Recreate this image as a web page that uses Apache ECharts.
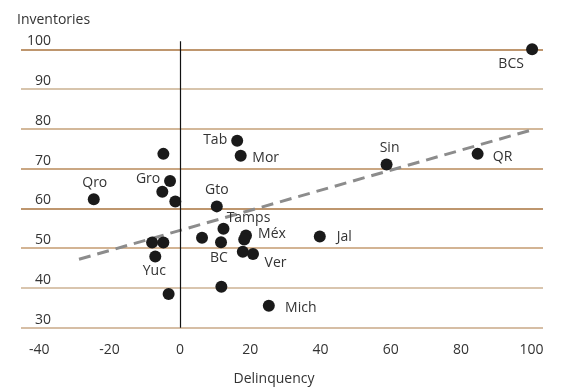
<!DOCTYPE html>
<html>
<head>
<meta charset="utf-8">
<script src="https://cdn.jsdelivr.net/npm/echarts@6/dist/echarts.min.js"></script>
<style>html,body{margin:0;padding:0;background:#fff}#c{width:561px;height:388px}</style>
</head>
<body>
<div id="c"></div>
<script>
// Data
const names = ['BCS','Tab','Mor','','Sin','QR','Gro','','Qro','','Gto','Tamps','','BC','Méx','','','Ver','Jal','','','Yuc','','','Mich'];
const delinquency = [100.2,16.3,17.3,-4.7,58.8,84.7,-2.8,-5.0,-24.5,-1.3,10.5,12.4,6.3,11.7,18.8,18.3,17.9,20.8,39.8,-7.9,-4.7,-7.0,11.8,-3.2,25.3];
const inventories = [100.0,77.0,73.2,73.7,71.0,73.7,66.9,64.2,62.3,61.7,60.5,54.9,52.6,51.5,53.2,52.2,49.1,48.5,52.9,51.4,51.4,47.9,40.3,38.5,35.5];
const trendX = [-28.7, 100];
const trendY = [47.2, 79.7];
const xTicks = [-40,-20,0,20,40,60,80,100];
const yTicks = [30,40,50,60,70,80,90,100];

// Label placement (style, not data)
const labelOffsets = {
  'BCS':[-21,15],'Sin':[3,-17],'QR':[25,3],'Tab':[-22,-1],'Mor':[25,2],'Gro':[-22,-2],
  'Qro':[1,-16],'Gto':[0,-16],'Tamps':[25,-11],'Méx':[26,-1],'Jal':[24.5,0],'BC':[-2,16],
  'Ver':[22.5,9],'Yuc':[-1,15],'Mich':[32,2]
};
const font = 'Open Sans';
const txt = '#333';

const points = names.map((n,i)=>{
  const item = {value:[delinquency[i], inventories[i]], name:n};
  if (n) item.label = {show:true, formatter:n, position:'inside', offset:labelOffsets[n]};
  return item;
});

const chart = echarts.init(document.getElementById('c'));
chart.setOption({
  animation:false,
  grid:{left:21,right:18,top:41.3,bottom:60.3,containLabel:false,outerBoundsMode:'none'},
  xAxis:{
    type:'value',min:-45.2,max:103.3,
    name:'Delinquency',nameLocation:'middle',nameGap:44,
    nameTextStyle:{fontFamily:font,fontSize:14,color:txt,padding:[0,16,0,0]},
    axisLine:{show:false,onZero:false},axisTick:{show:false},splitLine:{show:false},
    axisLabel:{customValues:xTicks,fontFamily:font,fontSize:14,color:txt,margin:15}
  },
  yAxis:{
    type:'value',min:30,max:102,interval:10,
    name:'Inventories',nameLocation:'end',nameGap:14,
    nameTextStyle:{fontFamily:font,fontSize:14,color:txt,align:'left',padding:[0,0,0,-4]},
    axisLine:{show:false,onZero:false},axisTick:{show:false},
    axisLabel:{customValues:yTicks,fontFamily:font,fontSize:14,color:txt,margin:-30,verticalAlign:'bottom',padding:[0,0,1,0]},
    splitLine:{show:true,showMaxLine:false,lineStyle:{width:1.5,color:['#c8a987','#ccb293','#c49b70','#a8733e','#b98a5a','#c4a079','#cab190','#a8733e']}}
  },
  series:[
    {
      type:'line',data:trendX.map((x,i)=>[x,trendY[i]]),symbol:'none',silent:true,
      lineStyle:{color:'#8c8c8c',width:3,type:[12,7]},z:1,
      markLine:{silent:true,symbol:'none',label:{show:false},
        lineStyle:{color:'#111',width:1.2,type:'solid'},data:[{xAxis:0}]}
    },
    {
      type:'scatter',data:points,symbolSize:12,
      itemStyle:{color:'#1a1a1a',opacity:1},
      label:{fontFamily:font,fontSize:14,color:txt},z:3
    }
  ]
});
</script>
</body>
</html>
